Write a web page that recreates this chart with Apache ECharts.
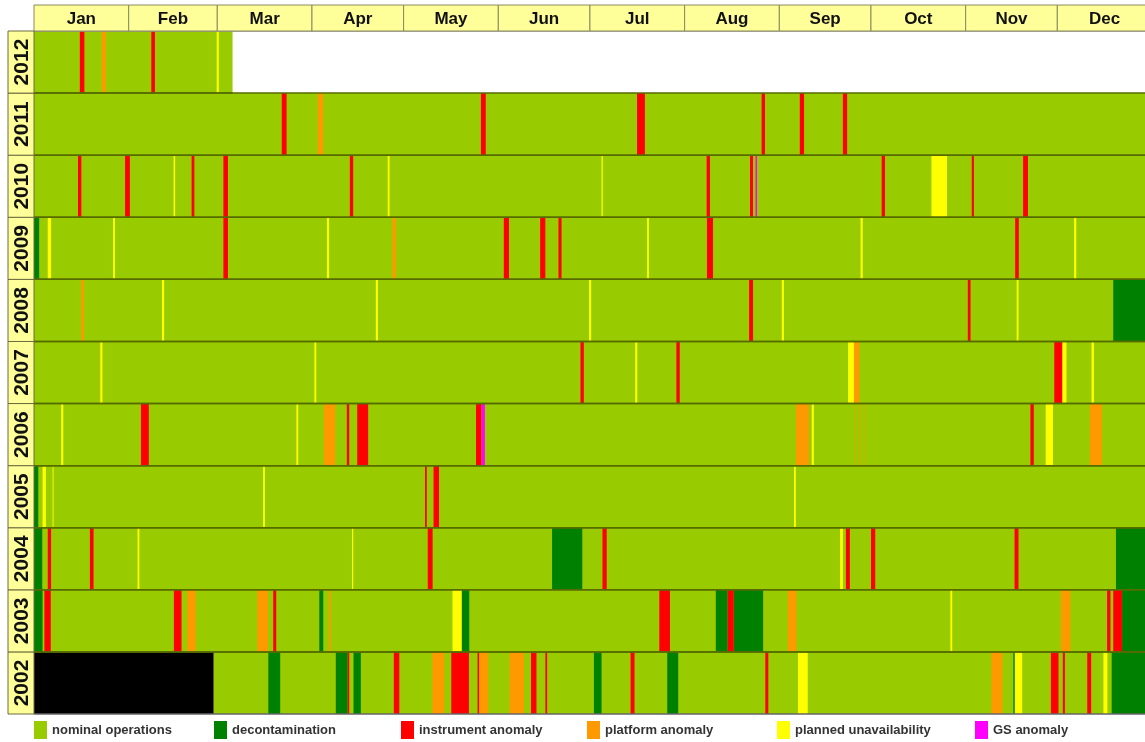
<!DOCTYPE html>
<html><head><meta charset="utf-8">
<script src="https://cdn.jsdelivr.net/npm/echarts@6/dist/echarts.min.js"></script>
<style>html,body{margin:0;padding:0;background:#fff}#c{width:1145px;height:742px}</style>
</head><body><div id="c"></div>
<script>
// ---------- data (day-of-year, 0 = Jan 1, 366-day scale) ----------
const months = ['Jan','Feb','Mar','Apr','May','Jun','Jul','Aug','Sep','Oct','Nov','Dec'];
const monthDays = [31,29,31,30,31,30,31,31,30,31,30,31];
const years = ['2002','2003','2004','2005','2006','2007','2008','2009','2010','2011','2012'];

// [year, startDay, endDay]
const nominalOperations = [
  ['2002',58.8,366],['2003',0,366],['2004',0,366],['2005',0,366],['2006',0,366],['2007',0,366],
  ['2008',0,366],['2009',0,366],['2010',0,366],['2011',0,366],['2012',0,65]
];
const noData = [['2002',0,58.8]];
const decontamination = [
  ['2002',76.7,80.6],['2002',98.8,102.7],['2002',104.6,107.0],['2002',183.3,185.8],['2002',207.3,210.9],['2002',320.6,321.1],['2002',352.8,366],
  ['2003',0,2.8],['2003',93.4,94.7],['2003',140.0,142.5],['2003',223.2,227.1],['2003',229.1,238.7],['2003',356.2,366],
  ['2004',0,2.7],['2004',169.6,179.5],['2004',354.2,366],
  ['2005',0,1.4],
  ['2008',353.3,366],
  ['2009',0,1.7]
];
const instrumentAnomaly = [
  ['2002',102.7,103.2],['2002',117.8,119.6],['2002',136.6,142.4],['2002',145.2,145.7],['2002',162.7,164.5],['2002',167.4,168.0],
  ['2002',195.3,196.6],['2002',239.4,240.4],['2002',332.9,335.4],['2002',336.8,337.5],['2002',344.8,346.1],
  ['2003',3.4,5.5],['2003',45.8,48.3],['2003',78.3,79.3],['2003',204.7,208.2],['2003',227.1,229.1],['2003',351.3,352.4],['2003',353.3,356.2],
  ['2004',4.5,5.6],['2004',18.3,19.5],['2004',128.9,130.5],['2004',186.1,187.5],['2004',265.8,267.1],['2004',274.0,275.4],['2004',321.0,322.3],
  ['2005',128.0,128.6],['2005',130.8,132.6],
  ['2006',35.0,37.6],['2006',102.4,103.2],['2006',105.8,109.4],['2006',144.7,146.5],['2006',326.2,327.3],
  ['2007',178.9,180.0],['2007',210.3,211.4],['2007',334.0,336.6],
  ['2008',234.1,235.4],['2008',305.7,306.6],
  ['2009',62.0,63.5],['2009',153.8,155.5],['2009',165.7,167.4],['2009',171.7,172.7],['2009',220.3,222.3],['2009',321.2,322.4],
  ['2010',14.4,15.5],['2010',29.8,31.4],['2010',51.6,52.5],['2010',62.0,63.5],['2010',103.4,104.5],['2010',220.2,221.3],
  ['2010',234.4,235.4],['2010',277.5,278.6],['2010',307.0,307.7],['2010',323.8,325.4],
  ['2011',81.1,82.7],['2011',146.3,147.9],['2011',197.4,200.0],['2011',238.2,239.3],['2011',250.7,252.1],['2011',264.8,266.2],
  ['2012',15.0,16.5],['2012',38.4,39.6]
];
const platformAnomaly = [
  ['2002',130.4,134.3],['2002',145.7,148.7],['2002',155.7,160.4],['2002',313.4,317.0],
  ['2003',50.2,52.9],['2003',73.1,76.6],['2003',96.6,97.2],['2003',246.8,249.6],['2003',336.2,339.3],
  ['2006',94.9,98.6],['2006',249.4,253.7],['2006',268.8,268.95],['2006',269.8,269.95],['2006',270.8,270.95],['2006',271.8,271.95],['2006',345.7,349.6],
  ['2007',268.4,270.2],
  ['2008',15.5,16.4],
  ['2009',117.4,118.5],
  ['2011',92.9,94.7],
  ['2012',22.2,23.5]
];
const plannedUnavailability = [
  ['2002',250.1,253.3],['2002',321.1,323.5],['2002',350.1,351.4],
  ['2003',137.0,140.0],['2003',300.0,300.6],
  ['2004',33.9,34.5],['2004',104.1,104.5],['2004',263.9,264.8],
  ['2005',2.8,3.9],['2005',6.1,6.4],['2005',75.0,75.6],['2005',248.8,249.4],
  ['2006',8.9,9.6],['2006',85.9,86.5],['2006',254.6,255.3],['2006',331.2,333.6],
  ['2007',21.7,22.4],['2007',91.8,92.4],['2007',196.8,197.5],['2007',266.5,268.4],['2007',336.6,338.0],['2007',346.2,347.0],
  ['2008',41.9,42.6],['2008',111.9,112.6],['2008',181.7,182.4],['2008',244.8,245.5],['2008',321.7,322.3],
  ['2009',4.5,5.6],['2009',25.9,26.5],['2009',95.9,96.6],['2009',200.7,201.3],['2009',270.6,271.3],['2009',340.5,341.2],
  ['2010',45.7,46.2],['2010',115.8,116.4],['2010',185.8,186.2],['2010',293.8,298.9],
  ['2012',59.8,60.5]
];
const gsAnomaly = [['2006',146.5,147.6],['2010',236.2,236.7]];

// ---------- chart ----------
const FONT = "'Liberation Sans', Arial, sans-serif";
const COLORS = {
  nominal:'#99CC00', decon:'#008000', instrument:'#FF0000', platform:'#FF9900',
  planned:'#FFFF00', gs:'#FF00FF', none:'#000000'
};
const HEADER_FILL = '#FFFF99', HEADER_STROKE = '#8a8a60', ROW_LINE = '#566b00';
const monthStarts = monthDays.reduce((acc, d, i) => { acc.push((acc[i] || 0) + d); return acc; }, [0]);
const monthData = months.map((m, i) => [monthStarts[i], monthStarts[i + 1], m]);

function bandRenderer(color) {
  return function (params, api) {
    const yi = api.value(0);
    const p0 = api.coord([api.value(1), yi]);
    const p1 = api.coord([api.value(2), yi]);
    const h = api.size([0, 1])[1];
    return { type: 'rect', shape: { x: p0[0], y: p0[1] - h / 2, width: p1[0] - p0[0], height: h },
             style: { fill: color } };
  };
}
function bandSeries(name, data, color, z) {
  return { type: 'custom', name, data, xAxisIndex: 0, yAxisIndex: 0, z, silent: true,
           encode: { x: [1, 2], y: 0 }, itemStyle: { color }, renderItem: bandRenderer(color) };
}

const rowExtent = years.map(y => {
  const ends = nominalOperations.filter(r => r[0] === y).map(r => r[2]);
  return [y, 0, Math.max.apply(null, ends)];
});

const legendNames = ['nominal operations','decontamination','instrument anomaly','platform anomaly','planned unavailability','GS anomaly'];
const legendLeft = [34, 214, 401, 587, 777, 975];

const option = {
  backgroundColor: '#ffffff',
  animation: false,
  legend: legendNames.map((n, i) => ({
    data: [n], left: legendLeft[i], top: 721, padding: 0, itemGap: 0,
    itemWidth: 13, itemHeight: 18, icon: 'rect', selectedMode: false,
    textStyle: { fontFamily: FONT, fontWeight: 'bold', fontSize: 13, color: '#333' }
  })),
  grid: [
    { left: 34, top: 31, width: 1118, height: 683, outerBoundsMode: 'none', containLabel: false },   // main
    { left: 34, top: 5, width: 1118, height: 26, outerBoundsMode: 'none', containLabel: false },     // month header
    { left: 8, top: 31, width: 26, height: 683, outerBoundsMode: 'none', containLabel: false }       // year labels
  ],
  xAxis: [
    { type: 'value', gridIndex: 0, min: 0, max: 366, show: false },
    { type: 'value', gridIndex: 1, min: 0, max: 366, show: false },
    { type: 'value', gridIndex: 2, min: 0, max: 1, show: false }
  ],
  yAxis: [
    { type: 'category', gridIndex: 0, data: years, show: false },
    { type: 'value', gridIndex: 1, min: 0, max: 1, show: false },
    { type: 'category', gridIndex: 2, data: years, show: false }
  ],
  series: [
    bandSeries('nominal operations', nominalOperations, COLORS.nominal, 1),
    bandSeries('no data', noData, COLORS.none, 2),
    bandSeries('decontamination', decontamination, COLORS.decon, 3),
    bandSeries('platform anomaly', platformAnomaly, COLORS.platform, 4),
    bandSeries('planned unavailability', plannedUnavailability, COLORS.planned, 5),
    bandSeries('instrument anomaly', instrumentAnomaly, COLORS.instrument, 6),
    bandSeries('GS anomaly', gsAnomaly, COLORS.gs, 7),
    { // row separator lines
      type: 'custom', name: 'rows', data: rowExtent, xAxisIndex: 0, yAxisIndex: 0, z: 8, silent: true,
      encode: { x: [1, 2], y: 0 },
      renderItem: function (params, api) {
        const yi = api.value(0);
        const p0 = api.coord([0, yi]);
        const p1 = api.coord([api.value(2), yi]);
        const pEnd = api.coord([366, yi]);
        const h = api.size([0, 1])[1];
        const top = p0[1] - h / 2, bot = p0[1] + h / 2;
        return { type: 'group', children: [
          { type: 'line', shape: { x1: p0[0], y1: top, x2: pEnd[0], y2: top },
            style: { stroke: yi === years.length - 1 ? '#999' : ROW_LINE, lineWidth: 1.5 } },
          { type: 'line', shape: { x1: p0[0], y1: bot, x2: (yi === 0 ? pEnd[0] : p1[0]), y2: bot },
            style: { stroke: yi === 0 ? '#666' : ROW_LINE, lineWidth: 1.5 } }
        ] };
      }
    },
    { // month header cells
      type: 'custom', name: 'months', data: monthData, xAxisIndex: 1, yAxisIndex: 1, z: 9, silent: true,
      encode: { x: [0, 1] },
      renderItem: function (params, api) {
        const a = api.coord([api.value(0), 1]);
        const b = api.coord([api.value(1), 0]);
        return { type: 'group', children: [
          { type: 'rect', shape: { x: a[0], y: a[1], width: b[0] - a[0], height: b[1] - a[1] },
            style: { fill: HEADER_FILL, stroke: HEADER_STROKE, lineWidth: 1 } },
          { type: 'text', x: (a[0] + b[0]) / 2, y: (a[1] + b[1]) / 2 + 1,
            style: { text: monthData[params.dataIndex][2], align: 'center', verticalAlign: 'middle',
                     fontFamily: FONT, fontWeight: 'bold', fontSize: 17, fill: '#111' } }
        ] };
      }
    },
    { // year label cells
      type: 'custom', name: 'years', data: years.map(y => [y]), xAxisIndex: 2, yAxisIndex: 2, z: 9, silent: true,
      encode: { y: 0 },
      renderItem: function (params, api) {
        const yi = api.value(0);
        const a = api.coord([0, yi]);
        const b = api.coord([1, yi]);
        const h = api.size([0, 1])[1];
        return { type: 'group', children: [
          { type: 'rect', shape: { x: a[0], y: a[1] - h / 2, width: b[0] - a[0], height: h },
            style: { fill: HEADER_FILL, stroke: '#6b6b40', lineWidth: 1 } },
          { type: 'text', x: (a[0] + b[0]) / 2 + 1, y: a[1], rotation: Math.PI / 2,
            style: { text: years[yi], align: 'center', verticalAlign: 'middle',
                     fontFamily: FONT, fontWeight: 'bold', fontSize: 21, fill: '#111' } }
        ] };
      }
    }
  ]
};
const chart = echarts.init(document.getElementById('c'), null, { renderer: 'canvas' });
chart.setOption(option);
</script>
</body></html>
